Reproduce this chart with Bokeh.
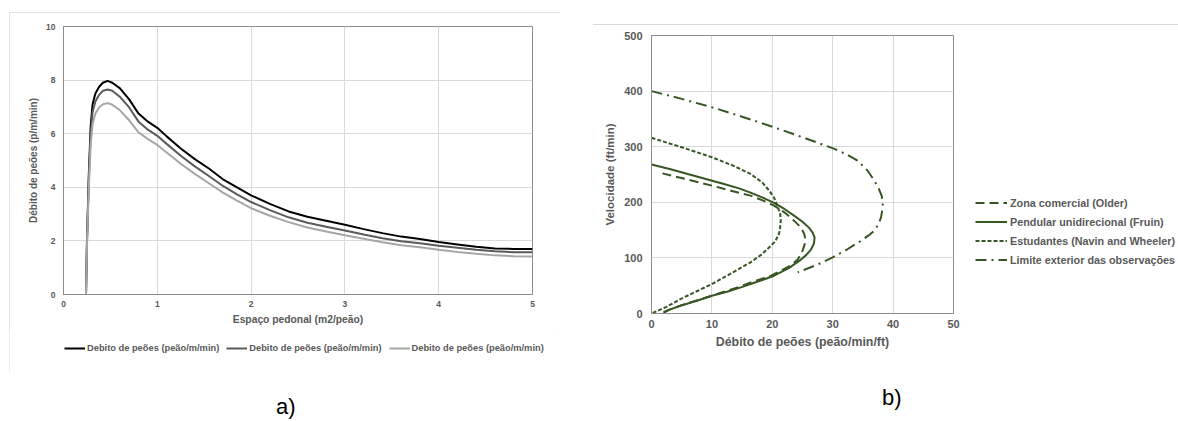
from bokeh.plotting import figure
from bokeh.models import Legend, LegendItem, FixedTicker, Div
from bokeh.layouts import row, column
from bokeh.embed import file_html
from bokeh.resources import INLINE

# ---------------- Panel a) data ----------------
a_x = [0.24, 0.25, 0.27, 0.29, 0.31, 0.34, 0.38, 0.42, 0.47, 0.52, 0.60, 0.70, 0.80, 0.90,
       1.00, 1.10, 1.25, 1.40, 1.55, 1.70, 1.85, 2.00, 2.20, 2.40, 2.60, 2.80, 3.00, 3.20,
       3.40, 3.60, 3.80, 4.00, 4.20, 4.40, 4.60, 4.80, 5.00]
a_black = [0.0, 2.0, 4.5, 6.3, 7.1, 7.5, 7.75, 7.9, 7.97, 7.9, 7.7, 7.28, 6.75, 6.45,
           6.22, 5.9, 5.45, 5.05, 4.7, 4.3, 4.0, 3.7, 3.38, 3.1, 2.9, 2.75, 2.6, 2.44,
           2.29, 2.16, 2.07, 1.96, 1.87, 1.78, 1.72, 1.70, 1.70]
a_mid = [0.0, 1.9, 4.3, 6.0, 6.8, 7.2, 7.45, 7.6, 7.65, 7.6, 7.38, 6.98, 6.45, 6.15,
         5.92, 5.62, 5.18, 4.78, 4.42, 4.05, 3.74, 3.45, 3.15, 2.88, 2.68, 2.53, 2.39, 2.24,
         2.1, 1.99, 1.91, 1.82, 1.74, 1.67, 1.61, 1.58, 1.58]
a_light = [0.0, 1.8, 4.0, 5.6, 6.35, 6.75, 6.98, 7.1, 7.14, 7.08, 6.88, 6.5, 6.05, 5.8,
           5.58, 5.3, 4.88, 4.5, 4.15, 3.8, 3.5, 3.22, 2.94, 2.7, 2.5, 2.35, 2.21, 2.08,
           1.95, 1.84, 1.76, 1.67, 1.59, 1.52, 1.46, 1.43, 1.42]
a_labels = ["Debito de peões (peão/m/min)", "Debito de peões (peão/m/min)", "Debito de peões (peão/m/min)"]
a_colors = ["#000000", "#5a5a5a", "#a6a6a6"]
a_xticks = [0, 1, 2, 3, 4, 5]
a_yticks = [0, 2, 4, 6, 8, 10]

# ---------------- Panel b) data ----------------
b_older_x = [1.8, 6.0, 10.0, 13.5, 16.4, 18.5, 20.3, 22.0, 23.6, 24.7, 25.3, 25.5, 25.3, 24.9,
             24.2, 23.0, 21.4, 19.8, 17.0, 14.8, 10.0, 5.0, 2.0]
b_older_y = [252, 241, 230, 220, 212, 203, 194, 182, 167, 155, 143, 132, 122, 110,
             97, 86, 77, 68, 58, 49, 32, 15, 3]
b_fruin_x = [0.0, 3.0, 6.0, 9.0, 12.0, 14.5, 16.5, 18.5, 20.3, 22.0, 23.6, 25.0, 26.1, 26.7,
             27.0, 26.9, 26.4, 25.6, 24.5, 22.8, 20.3, 17.5, 14.8, 12.5, 10.0, 7.5, 4.8, 3.0, 2.0]
b_fruin_y = [268, 260, 251, 242, 233, 225, 217, 208, 199, 188, 176, 165, 154, 145,
             137, 126, 115, 105, 95, 82, 68, 57, 47, 39, 32, 23, 14, 7, 1]
b_navin_x = [0.0, 5.0, 10.0, 13.5, 16.4, 18.3, 19.5, 20.3, 20.8, 21.3, 21.4, 21.3, 21.1, 20.5,
             19.5, 18.2, 16.4, 13.5, 10.0, 7.5, 4.8, 2.5, 0.2]
b_navin_y = [316, 299, 281, 266, 251, 236, 221, 208, 195, 180, 168, 155, 143, 130,
             119, 106, 92, 74, 53, 40, 26, 12, 1]
b_limit_x = [0.0, 5.0, 10.3, 15.0, 20.0, 25.0, 30.3, 32.5, 34.1, 35.7, 36.9, 37.6, 38.1, 38.3,
             38.2, 38.0, 37.6, 36.9, 35.9, 34.7, 32.5, 30.0, 27.5, 24.2]
b_limit_y = [400, 386, 370, 354, 336, 317, 296, 285, 275, 258, 239, 225, 212, 200,
             185, 173, 161, 149, 140, 131, 116, 101, 88, 74]
b_labels = ["Zona comercial (Older)", "Pendular unidirecional (Fruin)",
            "Estudantes (Navin and Wheeler)", "Limite exterior das observações"]
b_dashes = ["9 5", "solid", "4 2", "11 5 2 5"]
b_xticks = [0, 10, 20, 30, 40, 50]
b_yticks = [0, 100, 200, 300, 400, 500]

FONT = "Liberation Sans"
GRAY = "#595959"
GRID = "#d9d9d9"
AXIS = "#8c8c8c"
GREEN = "#375623"


def style_axes(p, tick_size, xtitle_size, ytitle_size, xstand, ystand, xtitle_stand, ytitle_stand):
    for ax in (p.xaxis[0], p.yaxis[0]):
        ax.major_tick_out = 0
        ax.major_tick_in = 0
        ax.minor_tick_line_color = None
        ax.axis_line_color = AXIS
        ax.major_label_text_font = FONT
        ax.major_label_text_font_size = tick_size
        ax.major_label_text_font_style = "bold"
        ax.major_label_text_color = GRAY
        ax.axis_label_text_font = FONT
        ax.axis_label_text_font_style = "bold"
        ax.axis_label_text_color = GRAY
    p.xaxis[0].axis_label_text_font_size = xtitle_size
    p.yaxis[0].axis_label_text_font_size = ytitle_size
    p.xaxis[0].major_label_standoff = xstand
    p.yaxis[0].major_label_standoff = ystand
    p.xaxis[0].axis_label_standoff = xtitle_stand
    p.yaxis[0].axis_label_standoff = ytitle_stand
    p.grid.grid_line_color = GRID
    p.outline_line_color = AXIS


def legend_figure(w, h, shadow=None):
    # a frame-only figure that carries a legend (its data lines sit outside its ranges)
    kw = {}
    if shadow:
        kw["styles"] = {"box-shadow": shadow}
    f = figure(width=w, height=h, x_range=(1000, 1001), y_range=(1000, 1001),
               x_axis_type=None, y_axis_type=None, output_backend="svg",
               toolbar_location=None, min_border=0, outline_line_color=None,
               background_fill_color="white", border_fill_color="white", **kw)
    f.frame_align = False
    return f


# ---------------- Figure a ----------------
pa = figure(width=551, height=318, x_range=(0, 5), y_range=(0, 10),
            output_backend="svg", toolbar_location=None,
            min_border_left=54, min_border_right=28, min_border_top=14, min_border_bottom=36,
            background_fill_color="white", border_fill_color="white")
pa.xaxis.ticker = FixedTicker(ticks=a_xticks)
pa.yaxis.ticker = FixedTicker(ticks=a_yticks)
pa.xaxis.axis_label = "Espaço pedonal (m2/peão)"
pa.yaxis.axis_label = "Débito de peões (p/m/min)"
style_axes(pa, "8.5px", "10.3px", "10px", 6, 8, 4, 4)

a_series = [a_black, a_mid, a_light]
for ys, c in zip(a_series, a_colors):
    pa.line(a_x, ys, line_color=c, line_width=2)

la = legend_figure(551, 42)
la_items = []
for ys, c, lab in zip(a_series, a_colors, a_labels):
    r = la.line(a_x, ys, line_color=c, line_width=2)
    la_items.append(LegendItem(label=lab, renderers=[r]))
leg_a = Legend(items=la_items, orientation="horizontal", location=(55, 18),
               glyph_width=21, glyph_height=12, label_standoff=2, spacing=7,
               padding=0, margin=0, border_line_color=None, background_fill_alpha=0,
               label_text_font=FONT, label_text_font_size="9.3px",
               label_text_font_style="bold", label_text_color=GRAY, label_height=12)
la.add_layout(leg_a)

# ---------------- Figure b ----------------
SHADOW = "0 -1px 0 0 #d9d9d9"
pb = figure(width=370, height=340, x_range=(0, 50), y_range=(0, 500),
            output_backend="svg", toolbar_location=None,
            min_border_left=58, min_border_right=10, min_border_top=10, min_border_bottom=52,
            background_fill_color="white", border_fill_color="white",
            styles={"box-shadow": SHADOW})
pb.xaxis.ticker = FixedTicker(ticks=b_xticks)
pb.yaxis.ticker = FixedTicker(ticks=b_yticks)
pb.xaxis.axis_label = "Débito de peões (peão/min/ft)"
pb.yaxis.axis_label = "Velocidade (ft/min)"
style_axes(pb, "11px", "12.4px", "11.5px", 6, 9, 4, 5)

b_series = [(b_older_x, b_older_y), (b_fruin_x, b_fruin_y),
            (b_navin_x, b_navin_y), (b_limit_x, b_limit_y)]
for (xs, ys), d in zip(b_series, b_dashes):
    pb.line(xs, ys, line_color=GREEN, line_width=2, line_dash=d)

lb = legend_figure(215, 340, SHADOW)
lb_items = []
for (xs, ys), d, lab in zip(b_series, b_dashes, b_labels):
    r = lb.line(xs, ys, line_color=GREEN, line_width=2, line_dash=d)
    lb_items.append(LegendItem(label=lab, renderers=[r]))
leg_b = Legend(items=lb_items, location=(12, 96), glyph_width=32, glyph_height=19,
               label_standoff=3, spacing=0, padding=0, margin=0, border_line_color=None,
               background_fill_alpha=0, label_text_font=FONT, label_text_font_size="10.8px",
               label_text_font_style="bold", label_text_color=GRAY, label_height=19)
lb.add_layout(leg_b)

div_style = {"font-size": "22px", "line-height": "22px", "font-family": "Liberation Sans, Arial",
             "color": "#000000"}
div_a = Div(text="a)", width=40, height=22, margin=(24, 0, 0, 276), styles=div_style)
div_b = Div(text="b)", width=40, height=22, margin=(22, 0, 0, 322), styles=div_style)

panel_a = column(pa, la, spacing=0, margin=(12, 0, 0, 9),
                 styles={"outline": "1px solid #d9d9d9", "outline-offset": "-1px"})
panel_b = row(pb, lb, spacing=0, margin=(25, 0, 0, 33))
layout = row(column(panel_a, div_a, spacing=0), column(panel_b, div_b, spacing=0), spacing=0)

with open("out.html", "w") as f:
    f.write(file_html(layout, INLINE))
